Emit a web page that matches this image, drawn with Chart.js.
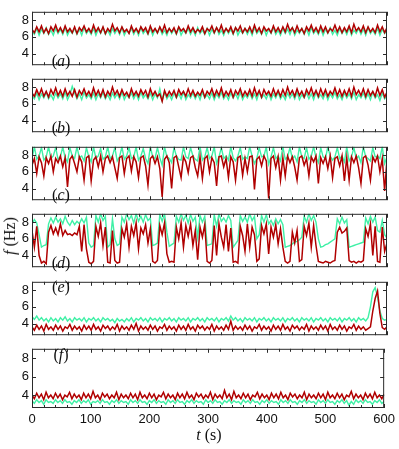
<!DOCTYPE html>
<html>
<head>
<meta charset="utf-8">
<script src="https://cdn.jsdelivr.net/npm/chart.js@4.4.0/dist/chart.umd.min.js"></script>
<style>
  body { margin: 0; background: #fff; width: 399px; height: 449px; position: relative; overflow: hidden; }
  .box { position: absolute; left: 0; width: 399px; }
  .lbl { position: absolute; font-family: 'Liberation Serif', serif; font-size: 16px; color: #111; transform: translate(-50%, -50%); white-space: nowrap; }
  .ylab { transform: translate(-50%, -50%) rotate(-90deg); }
</style>
</head>
<body>
<script>
// sample spacing of the traces, in seconds
const sampleStep = 4;
const xTickValues = [0, 100, 200, 300, 400, 500, 600];
const yTickValues = [4, 6, 8];
const panelLetters = ['a', 'b', 'c', 'd', 'e', 'f'];

const aRed = [
  6.9,6.5,7.2,6.6,7.3,6.5,7.0,6.4,7.2,6.7,
  7.4,6.6,7.1,6.5,7.3,6.6,7.0,6.5,7.2,6.4,
  7.1,6.7,7.3,6.6,7.0,6.5,7.4,6.6,7.1,6.5,
  7.2,6.4,7.0,6.6,7.5,6.7,7.1,6.5,7.2,6.6,
  6.9,6.4,7.3,6.6,7.0,6.5,7.2,6.7,7.1,6.4,
  7.3,6.6,7.0,6.5,7.2,6.6,7.4,6.5,7.0,6.6,
  7.1,6.4,7.2,6.7,7.0,6.5,7.3,6.6,7.1,6.5,
  6.9,6.6,7.2,6.4,7.0,6.7,7.3,6.5,7.1,6.6,
  7.4,6.5,7.0,6.6,7.2,6.4,7.1,6.7,7.3,6.5,
  7.0,6.6,7.2,6.5,7.4,6.6,7.1,6.4,7.2,6.7,
  7.0,6.5,7.3,6.6,7.1,6.5,7.2,6.6,7.5,6.7,
  7.1,6.5,7.3,6.6,7.0,6.4,7.2,6.7,7.4,6.6,
  7.1,6.5,7.3,6.6,7.2,6.5,7.0,6.7,7.4,6.6,
  7.2,6.5,7.1,6.6,7.3,6.5,7.5,6.7,7.1,6.6,
  7.3,6.5,7.2,6.6,7.0,6.5,7.4,6.6,7.2,6.5,
  7.1
];
const aGreen = [
  6.7,6.3,7.0,6.2,6.9,6.4,7.1,6.3,6.8,6.2,
  7.0,6.4,6.9,6.3,7.1,6.2,6.8,6.4,7.0,6.3,
  6.9,6.2,7.1,6.4,6.8,6.3,7.0,6.2,6.9,6.4,
  7.1,6.3,6.8,6.2,7.0,6.4,6.9,6.3,7.1,6.2,
  6.8,6.4,7.0,6.3,6.9,6.2,7.1,6.4,6.8,6.3,
  7.0,6.2,6.9,6.4,7.1,6.3,6.8,6.2,7.0,6.4,
  6.9,6.3,7.1,6.2,6.8,6.4,7.0,6.3,6.9,6.2,
  7.1,6.4,6.8,6.3,7.0,6.2,6.9,6.4,7.1,6.3,
  6.8,6.2,7.0,6.4,6.9,6.3,7.1,6.2,6.8,6.4,
  7.0,6.3,6.9,6.2,7.1,6.4,6.8,6.3,7.0,6.2,
  6.9,6.4,7.1,6.3,6.8,6.2,7.0,6.4,6.9,6.3,
  7.1,6.2,6.8,6.4,7.0,6.3,6.9,6.2,7.1,6.4,
  6.8,6.3,7.0,6.2,6.9,6.4,7.1,6.3,6.8,6.2,
  7.0,6.4,6.9,6.3,7.1,6.2,6.8,6.4,7.0,6.3,
  6.9,6.2,7.1,6.4,6.8,6.3,7.0,6.2,6.9,6.4,
  6.8
];

const bRed = [
  7.3,6.9,7.7,7.0,7.8,6.9,7.5,6.8,7.7,7.1,
  7.9,7.0,7.6,6.9,7.8,7.0,7.5,6.9,7.7,6.8,
  7.6,7.1,7.8,7.0,7.5,6.9,7.9,7.0,7.6,6.9,
  7.7,6.8,7.5,7.0,8.0,7.1,7.6,6.9,7.7,7.0,
  7.4,6.8,7.8,7.0,7.5,6.9,7.7,7.1,7.6,6.8,
  7.8,7.0,7.5,6.9,7.2,6.3,7.6,6.9,7.5,7.0,
  7.6,6.8,7.7,7.1,7.5,6.9,7.8,7.0,7.6,6.9,
  7.4,7.0,7.7,6.8,7.5,7.1,7.8,6.9,7.6,7.0,
  7.9,6.9,7.5,7.0,7.7,6.8,7.6,7.1,7.8,6.9,
  7.5,7.0,7.7,6.9,7.9,7.0,7.6,6.8,7.7,7.1,
  7.5,6.9,7.8,7.0,7.6,6.9,7.7,7.0,8.0,7.1,
  7.6,6.9,7.8,7.0,7.5,6.8,7.7,7.1,7.9,7.0,
  7.6,6.9,7.8,7.0,7.7,6.9,7.5,7.1,7.9,7.0,
  7.7,6.9,7.6,7.0,7.8,6.9,8.0,7.1,7.6,7.0,
  7.8,6.9,7.7,7.0,7.5,6.9,7.9,7.0,7.7,6.8,
  7.4
];
const bGreen = [
  7.0,6.6,7.3,6.5,7.2,6.7,7.4,6.6,7.1,6.5,
  7.3,6.7,7.2,6.6,7.4,6.5,7.1,8.1,7.3,6.6,
  7.2,6.5,7.4,6.7,7.1,6.6,7.3,6.5,7.2,6.7,
  7.4,6.6,7.1,6.5,7.3,6.7,7.2,6.6,7.4,6.5,
  7.1,6.7,7.3,6.6,7.2,6.5,7.4,6.7,7.1,6.6,
  7.3,6.5,7.2,6.7,7.8,6.4,7.4,6.6,7.1,6.5,
  7.3,6.7,7.2,6.6,7.4,6.5,7.1,6.7,7.3,6.6,
  7.2,6.5,7.4,6.7,7.1,6.6,7.3,6.5,7.2,6.7,
  7.4,6.6,7.1,6.5,7.3,6.7,7.2,6.6,7.4,6.5,
  7.1,6.7,7.3,6.6,7.2,6.5,7.4,6.7,7.1,6.6,
  7.3,6.5,7.2,6.7,7.4,6.6,7.1,6.5,7.3,6.7,
  7.2,6.6,7.4,6.5,7.1,6.7,7.3,6.6,7.2,6.5,
  7.4,6.7,7.1,6.6,7.3,6.5,7.2,6.7,7.4,6.6,
  7.1,6.5,7.3,6.7,7.2,6.6,7.4,6.5,7.1,6.7,
  7.3,6.6,7.2,6.5,7.4,6.7,7.1,6.4,7.3,6.6,
  7.0
];

const cRed = [
  6.8,7.6,5.8,7.8,7.1,5.5,7.7,7.0,7.9,6.0,
  7.6,7.1,7.9,6.6,7.7,4.2,7.5,7.9,7.0,6.0,
  7.8,7.2,5.0,7.7,7.9,4.9,7.4,7.8,6.6,7.9,
  6.0,7.6,7.9,7.1,7.8,6.5,5.2,7.7,7.9,5.8,
  7.6,7.9,6.1,7.8,7.2,5.3,7.7,7.9,6.7,4.4,
  7.6,7.9,7.0,7.8,6.4,3.0,7.5,7.9,7.1,4.0,
  7.7,7.9,6.6,5.3,7.8,7.2,5.9,7.7,7.9,6.5,
  5.5,7.8,5.2,7.6,7.9,6.0,7.7,7.1,4.3,7.8,
  7.9,6.6,7.6,5.3,7.8,7.2,5.0,7.7,7.9,5.6,
  7.6,6.0,7.8,7.9,3.9,7.5,7.8,6.7,7.9,7.3,
  2.8,7.6,7.9,6.5,7.8,5.0,7.7,5.5,7.9,7.1,
  7.8,6.6,5.0,7.7,7.9,6.8,7.6,5.5,7.8,7.2,
  7.9,4.6,7.7,7.0,7.8,6.4,7.9,5.3,7.6,7.8,
  6.7,7.9,4.9,7.7,5.0,7.8,7.1,7.9,6.5,4.6,
  7.7,7.9,6.8,5.0,7.8,7.2,7.9,6.0,7.6,3.7,
  7.5
];
const cGreen = [
  7.6,9.0,7.5,7.9,8.9,7.4,7.8,9.0,7.6,7.9,
  8.9,7.5,7.8,9.0,7.7,7.2,8.9,7.9,7.6,9.0,
  7.7,7.9,7.3,8.9,7.8,7.2,9.0,7.6,7.9,8.8,
  7.5,7.8,9.0,7.6,7.9,8.9,7.3,7.8,9.0,7.5,
  7.9,8.9,7.6,7.8,9.0,7.4,7.9,8.8,7.6,7.0,
  9.0,7.8,7.6,8.9,7.7,6.8,9.0,7.8,7.6,7.1,
  8.9,7.9,7.5,7.4,9.0,7.8,7.6,8.9,7.9,7.5,
  7.3,9.0,7.4,7.8,8.9,7.6,7.9,9.0,7.0,7.8,
  8.9,7.6,7.9,7.4,9.0,7.7,7.3,7.9,8.9,7.5,
  7.8,7.6,9.0,7.9,7.0,7.6,8.9,7.8,7.9,9.0,
  6.9,7.8,8.9,7.6,7.9,7.3,9.0,7.5,7.8,8.9,
  7.6,7.9,7.2,9.0,7.8,7.6,8.9,7.5,7.9,9.0,
  7.7,7.1,8.9,7.8,7.6,9.0,7.9,7.4,7.8,8.9,
  7.6,7.9,7.2,9.0,7.3,7.8,8.9,7.6,7.9,7.1,
  9.0,7.8,7.6,7.3,8.9,7.8,7.9,7.6,9.0,7.0,
  7.8
];

const dRed = [
  7.0,5.0,7.5,4.0,3.1,3.3,3.0,6.8,7.6,6.6,
  7.3,6.5,7.8,6.4,7.0,6.5,6.6,6.4,6.7,6.5,
  7.5,4.5,7.7,4.8,3.2,3.0,3.3,7.5,6.3,7.9,
  5.2,7.4,3.2,3.1,7.0,3.4,3.1,3.2,7.2,6.2,
  7.8,5.0,7.5,6.4,7.9,4.8,7.3,6.6,7.7,5.5,
  7.2,3.3,3.1,3.4,7.6,6.5,7.9,4.2,3.2,3.3,
  3.2,7.4,6.0,7.9,5.0,7.6,6.3,7.8,5.2,7.0,
  3.5,7.4,6.2,7.7,3.3,3.1,3.4,7.6,4.0,7.8,
  6.2,5.0,7.7,4.5,7.3,3.2,3.3,3.1,7.5,6.4,
  4.5,7.8,5.0,7.4,6.5,3.3,3.6,7.6,6.6,7.8,
  4.2,7.4,6.2,7.7,5.4,7.2,5.0,3.3,3.1,3.3,
  6.8,5.5,7.0,3.3,3.5,7.5,6.4,7.9,5.0,7.6,
  5.2,3.3,3.2,3.1,3.3,3.2,3.1,3.3,3.4,6.8,
  7.4,6.7,6.9,7.3,3.4,3.2,3.3,3.1,3.3,3.2,
  3.4,7.2,6.3,7.8,4.0,7.5,3.3,3.2,7.4,4.5,
  5.5
];
const dGreen = [
  7.8,8.3,7.9,6.5,5.0,5.2,5.3,7.8,8.5,7.9,
  8.6,8.0,8.4,7.8,8.7,8.0,7.6,8.2,7.7,8.1,
  7.8,8.4,7.9,8.6,5.5,5.0,5.2,8.8,8.0,9.0,
  8.2,8.7,5.0,5.3,8.4,6.0,5.2,5.4,8.6,8.0,
  9.0,8.3,8.8,7.9,9.0,8.1,8.7,8.0,8.9,8.2,
  8.5,5.2,5.3,5.5,8.9,8.1,9.0,6.8,5.1,5.3,
  5.5,8.7,8.0,9.0,8.2,8.8,7.9,8.9,8.1,8.6,
  6.2,8.8,8.0,8.7,5.2,5.3,5.4,8.9,7.5,9.0,
  8.1,8.5,8.0,8.8,8.2,5.0,5.4,5.8,8.8,8.1,
  8.6,8.0,9.0,8.2,8.7,6.0,6.5,8.8,8.0,8.9,
  7.8,8.2,7.6,8.4,7.8,8.3,7.7,5.0,5.1,5.2,
  5.4,5.6,5.7,5.9,6.2,8.7,8.0,9.0,8.2,8.8,
  8.0,6.0,5.0,5.1,5.3,5.4,5.6,5.8,6.0,8.4,
  7.8,8.6,7.9,8.3,5.0,5.1,5.2,5.3,5.4,5.5,
  5.6,8.5,7.8,8.7,8.0,8.6,7.0,6.8,8.2,6.5,
  6.1
];

const eRed = [
  3.6,3.2,3.8,3.3,3.7,3.1,3.9,3.3,3.6,3.2,
  3.8,3.3,3.7,3.1,3.6,3.4,3.9,3.2,3.7,3.3,
  3.6,3.1,3.8,3.3,3.7,3.2,3.9,3.3,3.6,3.1,
  3.8,3.4,3.7,3.2,3.6,3.3,3.9,3.1,3.7,3.3,
  3.6,3.2,3.8,3.3,4.0,3.1,3.7,3.3,3.6,3.2,
  3.8,3.3,3.7,3.1,3.6,3.4,3.9,3.2,3.7,3.3,
  3.6,3.1,3.8,3.3,3.7,3.2,3.9,3.3,3.6,3.1,
  3.8,3.4,3.7,3.2,3.6,3.3,3.9,3.1,3.7,3.3,
  3.6,3.2,3.8,3.3,4.3,3.2,3.7,3.3,3.6,3.2,
  3.8,3.3,3.7,3.1,3.6,3.4,3.9,3.2,3.7,3.3,
  3.6,3.1,3.8,3.3,3.7,3.2,3.9,3.3,3.6,3.1,
  3.8,3.4,3.7,3.2,3.6,3.3,3.9,3.1,3.7,3.3,
  3.6,3.2,3.8,3.3,3.7,3.1,3.9,3.3,3.6,3.2,
  3.8,3.3,3.7,3.1,3.6,3.4,3.9,3.2,3.7,3.3,
  3.6,3.2,3.4,3.6,5.5,7.0,7.9,5.2,3.5,3.3,
  3.6
];
const eGreen = [
  4.8,4.5,4.9,4.4,4.7,4.3,4.6,4.2,4.7,4.3,
  4.6,4.2,4.7,4.4,4.8,4.3,4.6,4.2,4.7,4.4,
  4.6,4.3,4.7,4.2,4.6,4.4,4.7,4.3,4.6,4.2,
  4.7,4.4,4.6,4.3,4.5,4.1,4.6,4.3,4.5,4.2,
  4.6,4.3,4.7,4.2,4.6,4.4,4.7,4.3,4.6,4.2,
  4.7,4.4,4.6,4.3,4.7,4.2,4.6,4.4,4.7,4.3,
  4.6,4.2,4.7,4.4,4.6,4.3,4.7,4.2,4.6,4.4,
  4.7,4.3,4.6,4.2,4.7,4.4,4.6,4.3,4.7,4.2,
  4.6,4.4,4.7,4.3,4.9,4.4,4.7,4.3,4.6,4.2,
  4.7,4.4,4.6,4.3,4.7,4.2,4.6,4.4,4.7,4.3,
  4.6,4.2,4.7,4.4,4.6,4.3,4.7,4.2,4.6,4.4,
  4.7,4.3,4.6,4.2,4.7,4.4,4.6,4.3,4.7,4.2,
  4.6,4.4,4.7,4.3,4.6,4.2,4.7,4.4,4.6,4.3,
  4.7,4.2,4.6,4.4,4.7,4.3,4.6,4.2,4.7,4.4,
  4.6,4.3,4.7,6.0,7.8,8.3,7.2,5.5,4.6,4.4,
  4.5
];

const fRed = [
  4.0,3.6,4.2,3.7,4.1,3.5,4.3,3.7,4.0,3.6,
  4.2,3.7,4.1,3.5,4.0,3.8,4.3,3.6,4.1,3.7,
  4.0,3.5,4.2,3.7,4.1,3.6,4.4,3.7,4.0,3.5,
  4.2,3.8,4.1,3.6,4.0,3.7,4.3,3.5,4.1,3.7,
  4.0,3.6,4.2,3.7,4.1,3.5,4.3,3.7,4.0,3.6,
  4.2,3.7,4.1,3.5,4.0,3.8,4.3,3.6,4.1,3.7,
  4.0,3.5,4.2,3.7,4.1,3.6,4.3,3.7,4.0,3.5,
  4.2,3.8,4.1,3.6,4.0,3.7,4.3,3.5,4.1,3.7,
  4.0,3.6,4.5,3.7,4.1,3.5,4.4,3.7,4.0,3.6,
  4.2,3.7,4.1,3.5,4.0,3.8,4.3,3.6,4.1,3.7,
  4.0,3.5,4.2,3.7,4.1,3.6,4.3,3.7,4.0,3.5,
  4.2,3.8,4.1,3.6,4.0,3.7,4.3,3.5,4.1,3.7,
  4.0,3.6,4.2,3.7,4.1,3.5,4.3,3.7,4.0,3.6,
  4.2,3.7,4.1,3.5,4.0,3.8,4.4,3.6,4.1,3.7,
  4.0,3.5,4.2,3.7,4.1,3.6,4.3,3.7,4.0,3.6,
  4.1
];
const fGreen = [
  3.4,3.1,3.5,3.2,3.4,3.0,3.5,3.2,3.3,3.1,
  3.5,3.2,3.4,3.1,3.5,3.2,3.3,3.0,3.4,3.2,
  3.5,3.1,3.4,3.2,3.5,3.0,3.3,3.2,3.4,3.1,
  3.5,3.2,3.3,3.0,3.4,3.2,3.5,3.1,3.4,3.2,
  3.3,3.0,3.5,3.2,3.4,3.1,3.5,3.2,3.3,3.0,
  3.4,3.2,3.5,3.1,3.4,3.2,3.3,3.0,3.5,3.2,
  3.4,3.1,3.5,3.2,3.3,3.0,3.4,3.2,3.5,3.1,
  3.4,3.2,3.3,3.0,3.5,3.2,3.4,3.1,3.5,3.2,
  3.3,3.0,3.4,3.2,3.5,3.1,3.4,3.2,3.3,3.0,
  3.5,3.2,3.4,3.1,3.5,3.2,3.3,3.0,3.4,3.2,
  3.5,3.1,3.4,3.2,3.3,3.0,3.5,3.2,3.4,3.1,
  3.5,3.2,3.3,3.0,3.4,3.2,3.5,3.1,3.4,3.2,
  3.3,3.0,3.5,3.2,3.4,3.1,3.5,3.2,3.3,3.0,
  3.4,3.2,3.5,3.1,3.4,2.9,3.3,3.0,3.5,3.2,
  3.4,3.1,3.5,3.2,3.3,3.0,3.4,3.2,3.5,3.1,
  3.3
];

const redSeries = [aRed, bRed, cRed, dRed, eRed, fRed];
const greenSeries = [aGreen, bGreen, cGreen, dGreen, eGreen, fGreen];

const RED = '#b00000';
const GREEN = '#3ff0a6';
const panelTops = [6, 73, 141, 208, 276, 343];
const panelHeight = 65;

const toPoints = arr => arr.map((v, k) => ({ x: k * sampleStep, y: v }));

// box frame plus the little inward tick marks
const framePlugin = {
  id: 'frame',
  afterDatasetsDraw(chart) {
    const { ctx, chartArea: a, scales } = chart;
    ctx.save();
    ctx.strokeStyle = '#2a2a2a';
    ctx.lineWidth = 1;
    ctx.strokeRect(a.left + 0.5, a.top + 0.5, a.width - 1, a.height - 1);
    ctx.beginPath();
    for (let v = 0; v <= 600; v += 20) {
      const px = Math.round(scales.x.getPixelForValue(v)) + 0.5;
      const len = v % 100 === 0 ? 4 : 3;
      ctx.moveTo(px, a.top); ctx.lineTo(px, a.top + len);
      ctx.moveTo(px, a.bottom); ctx.lineTo(px, a.bottom - len);
    }
    yTickValues.forEach(v => {
      const py = Math.round(scales.y.getPixelForValue(v)) + 0.5;
      ctx.moveTo(a.left, py); ctx.lineTo(a.left + 4, py);
      ctx.moveTo(a.right, py); ctx.lineTo(a.right - 4, py);
    });
    ctx.stroke();
    ctx.restore();
  }
};

function makePanel(i) {
  const last = i === panelTops.length - 1;
  const h = panelHeight + 5 + (last ? 35 : 5);
  const box = document.createElement('div');
  box.className = 'box';
  box.style.top = (panelTops[i] - 5) + 'px';
  box.style.height = h + 'px';
  const canvas = document.createElement('canvas');
  canvas.width = 399;
  canvas.height = h;
  box.appendChild(canvas);
  document.body.appendChild(box);

  new Chart(canvas, {
    type: 'line',
    data: {
      datasets: [{
        data: toPoints(redSeries[i]),
        borderColor: RED,
        borderWidth: 1.5,
        pointRadius: 0,
        order: 0
      }, {
        data: toPoints(greenSeries[i]),
        borderColor: GREEN,
        borderWidth: 1.4,
        pointRadius: 0,
        order: 1
      }]
    },
    options: {
      responsive: false,
      animation: false,
      events: [],
      layout: { padding: { top: 5, right: 12, bottom: last ? 0 : 5, left: 0 } },
      plugins: { legend: { display: false }, tooltip: { enabled: false } },
      scales: {
        x: {
          type: 'linear', min: 0, max: 600,
          display: last,
          grid: { display: false, drawTicks: false },
          border: { display: false },
          afterBuildTicks: s => { s.ticks = xTickValues.map(v => ({ value: v })); },
          afterFit: s => { s.height = last ? 35 : 0; },
          ticks: { font: { family: 'Liberation Sans', size: 13 }, color: '#111', padding: 4, maxRotation: 0, autoSkip: false }
        },
        y: {
          min: 2.6, max: 9.0,
          grid: { display: false, drawTicks: false },
          border: { display: false },
          afterBuildTicks: s => { s.ticks = yTickValues.map(v => ({ value: v })); },
          afterFit: s => { s.width = 32; },
          ticks: { font: { family: 'Liberation Sans', size: 13 }, color: '#111', padding: 3, autoSkip: false }
        }
      }
    },
    plugins: [framePlugin]
  });
}

panelTops.forEach((_, i) => makePanel(i));

// panel letters and axis titles
function addLabel(html, x, y, cls) {
  const d = document.createElement('div');
  d.className = 'lbl' + (cls ? ' ' + cls : '');
  d.style.left = x + 'px';
  d.style.top = y + 'px';
  d.innerHTML = html;
  document.body.appendChild(d);
}
const labelOffsets = [55, 55, 54, 55, 11, 12];
panelLetters.forEach((t, i) => addLabel('(<i>' + t + '</i>)', 61, panelTops[i] + labelOffsets[i]));
addLabel('<i>f</i> (Hz)', 10, 236, 'ylab');
addLabel('<i>t</i> (s)', 209, 435);
</script>
</body>
</html>
